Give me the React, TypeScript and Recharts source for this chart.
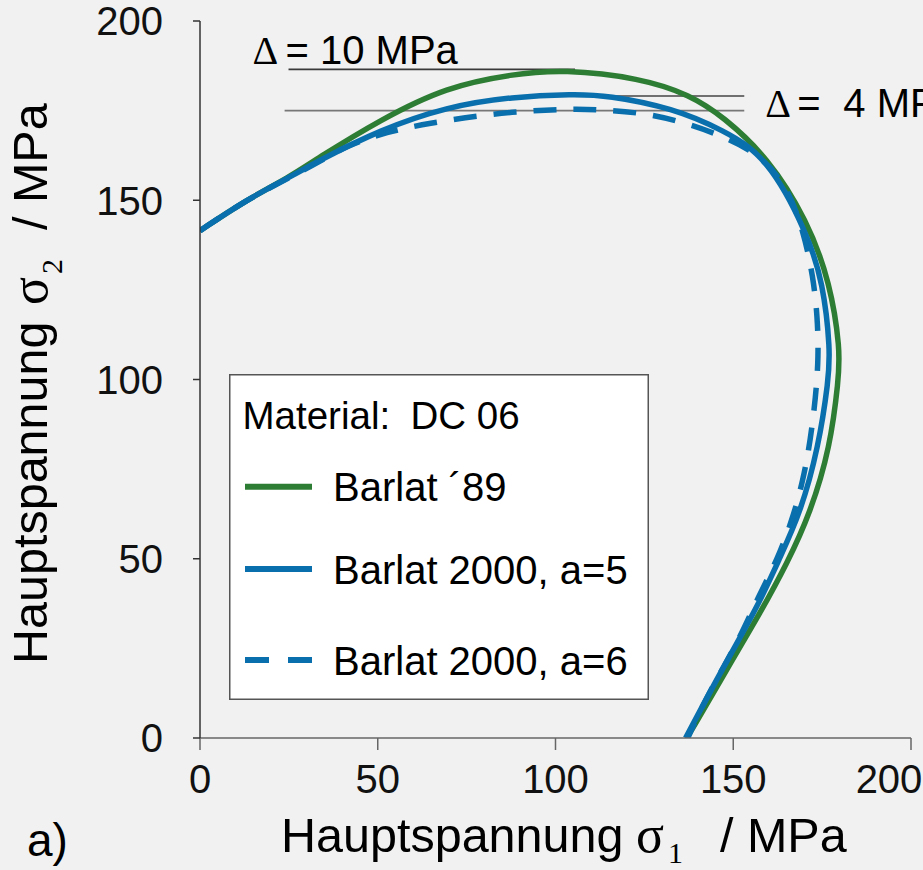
import React from 'react';
import { LineChart, Line, XAxis, YAxis, ReferenceLine, Legend } from 'recharts';

// ---- data ----
const xTicks = [0, 50, 100, 150, 200];
const yTicks = [0, 50, 100, 150, 200];

const seriesNames = ['Barlat \u00B489', 'Barlat 2000, a=5', 'Barlat 2000, a=6'];
const seriesColors = ['#2e7d34', '#0a6fad', '#0a6fad'];
const seriesDash = ['', '', '23 17'];

const barlat89: number[][] = [
  [0, 141.5], [13, 150.1], [25, 156.3], [33.7, 162.1], [50.6, 172.4], [69.4, 181.7],
  [88.0, 185.2], [102.1, 186.5], [123.8, 184.1], [137.9, 179.4], [147.2, 173.3],
  [159.6, 162.1], [170.8, 144.5], [177.3, 126.9], [180.1, 108.2], [179.6, 99.9],
  [177.3, 81.2], [171.7, 62.8], [165.2, 48.8], [157.6, 34.9], [149.2, 20.9],
  [137.9, 1.4], [136.8, 0],
];

const barlat2000a5: number[][] = [
  [0, 141.5], [13, 150.1], [25, 156.3], [33.7, 161.2], [50.6, 169.6], [69.4, 176.1],
  [88.0, 178.9], [105.0, 179.6], [114.5, 179.3], [133.1, 175.7], [147.2, 169.6],
  [159.6, 162.1], [170.8, 140.9], [175.3, 126.9], [177.3, 108.2], [176.8, 99.9],
  [174.0, 81.2], [168.9, 62.8], [163.2, 50.5], [156.8, 36.5], [148.3, 21.8],
  [137.0, 0.8], [136.6, 0],
];

const barlat2000a6: number[][] = [
  [0, 141.5], [13, 150.1], [25, 156.2], [33.7, 160.8], [41.2, 165.2], [52.5, 169.1],
  [64.6, 171.5], [78.7, 173.7], [92.8, 175.0], [104.9, 175.5], [114.5, 175.2],
  [125.8, 174.2], [137.0, 171.5], [148.3, 167.4], [157.6, 162.6], [165.2, 153.7],
  [169.7, 141.7], [172.5, 128.6], [173.7, 117.4], [174.0, 106.3], [173.2, 95.1],
  [171.7, 83.1], [169.7, 72.0], [166.6, 60.8], [162.4, 49.7], [157.0, 39.3],
  [152.0, 28.2], [146.3, 18.1], [140.7, 7.8], [137.9, 1.4], [137.2, 0],
];

// annotation reference segments [x1, x2, y]
const delta10Top = [24.9, 105.5, 186.5];
const delta4Top = [104.0, 153.1, 179.1];
const deltaBottom = [23.8, 153.1, 175.0];

const legendTitle = 'Material:';
const legendMaterial = 'DC 06';

// ---- helpers ----
const SANS = "'Liberation Sans', Arial, sans-serif";
const SERIF = "'Liberation Serif', 'Times New Roman', serif";

const toPts = (arr: number[][]) => arr.map(([x, y]) => ({ x, y }));
const seriesData = [toPts(barlat89), toPts(barlat2000a5), toPts(barlat2000a6)];

const XTick = (props: any) => {
  const { x, y, payload } = props;
  const last = payload.value === xTicks[xTicks.length - 1];
  return (
    <text x={last ? x - 22 : x} y={y} dy="0.71em" textAnchor="middle" fontFamily={SANS} fontSize={40} fill="#111">
      {payload.value}
    </text>
  );
};

const YTick = (props: any) => {
  const { x, y, payload } = props;
  return (
    <text x={x} y={y} dy="0.36em" textAnchor="end" fontFamily={SANS} fontSize={40} fill="#111">
      {payload.value}
    </text>
  );
};

const XTitle = () => (
  <g>
    <text y={852} fontFamily={SANS} fontSize={48.5} fill="#000">
      <tspan x={281}>Hauptspannung</tspan>
      <tspan x={636} fontFamily={SERIF} fontSize={52}>σ</tspan>
      <tspan x={668} dy={11} fontFamily={SERIF} fontSize={30}>1</tspan>
      <tspan x={720} dy={-11}>/ MPa</tspan>
    </text>
    <text x={27} y={856} fontFamily={SANS} fontSize={46} fill="#000">a)</text>
  </g>
);

const YTitle = () => (
  <text transform="translate(47,664) rotate(-90)" fontFamily={SANS} fontSize={48.5} fill="#000">
    <tspan x={0} y={0}>Hauptspannung</tspan>
    <tspan x={359} fontFamily={SERIF} fontSize={52}>σ</tspan>
    <tspan x={390} dy={15} fontFamily={SERIF} fontSize={30}>2</tspan>
    <tspan x={434} dy={-15}>/ MPa</tspan>
  </text>
);

const Delta10Label = (props: any) => {
  const { x, y } = props.viewBox;
  return (
    <text y={y - 5} fontSize={40} fill="#000">
      <tspan x={x - 36} fontFamily={SERIF}>Δ</tspan>
      <tspan x={x - 3} fontFamily={SANS}>= 10 MPa</tspan>
    </text>
  );
};

const Delta4Label = (props: any) => {
  const { x, y, width } = props.viewBox;
  const ex = x + width;
  return (
    <text y={y + 21} fontSize={40} fill="#000">
      <tspan x={ex + 21} fontFamily={SERIF}>Δ</tspan>
      <tspan x={ex + 53} fontFamily={SANS}>=</tspan>
      <tspan x={ex + 99} fontFamily={SANS}>4 MPa</tspan>
    </text>
  );
};

const rowY = [112.7, 195, 286];

const LegendBox = () => (
  <svg width={420} height={326} style={{ display: 'block' }}>
    <rect x={0.75} y={0.75} width={418.5} height={324.5} fill="#ffffff" stroke="#555" strokeWidth={1.5} />
    <text y={55} fontFamily={SANS} fontSize={38.5} fill="#000">
      <tspan x={13.5}>{legendTitle}</tspan>
      <tspan x={181.5}>{legendMaterial}</tspan>
    </text>
    {seriesNames.map((name, i) => (
      <g key={name}>
        <line
          x1={16}
          x2={83}
          y1={rowY[i]}
          y2={rowY[i]}
          stroke={seriesColors[i]}
          strokeWidth={6}
          strokeDasharray={seriesDash[i] ? '24 19' : undefined}
        />
        <text x={104} y={rowY[i] + 14.5} fontFamily={SANS} fontSize={40} fill="#000">
          {name}
        </text>
      </g>
    ))}
  </svg>
);

export default function App() {
  return (
    <div style={{ position: 'absolute', left: 0, top: 0, width: 923, height: 870, background: '#f1f1f1', overflow: 'hidden' }}>
      <LineChart width={923} height={870} margin={{ top: 21, right: 12, bottom: 0, left: 0 }}>
        <XAxis
          type="number"
          dataKey="x"
          domain={[0, 200]}
          ticks={xTicks}
          allowDataOverflow
          height={132}
          stroke="#666"
          strokeWidth={1.5}
          tickSize={12}
          tickMargin={15}
          tick={<XTick />}
          label={XTitle}
        />
        <YAxis
          type="number"
          dataKey="y"
          domain={[0, 200]}
          ticks={yTicks}
          allowDataOverflow
          width={200}
          stroke="#333"
          strokeWidth={1.5}
          tickSize={7}
          tickMargin={30}
          tick={<YTick />}
          label={YTitle}
        />
        <ReferenceLine
          segment={[{ x: delta10Top[0], y: delta10Top[2] }, { x: delta10Top[1], y: delta10Top[2] }]}
          stroke="#3a3a3a"
          strokeWidth={1.6}
          label={Delta10Label}
        />
        <ReferenceLine
          segment={[{ x: delta4Top[0], y: delta4Top[2] }, { x: delta4Top[1], y: delta4Top[2] }]}
          stroke="#444"
          strokeWidth={1.6}
          label={Delta4Label}
        />
        <ReferenceLine
          segment={[{ x: deltaBottom[0], y: deltaBottom[2] }, { x: deltaBottom[1], y: deltaBottom[2] }]}
          stroke="#777"
          strokeWidth={1.6}
        />
        {seriesNames.map((name, i) => (
          <Line
            key={name}
            name={name}
            data={seriesData[i]}
            dataKey="y"
            type="basis"
            stroke={seriesColors[i]}
            strokeWidth={5.5}
            strokeDasharray={seriesDash[i] || undefined}
            dot={false}
            activeDot={false}
            isAnimationActive={false}
          />
        ))}
        <Legend
          layout="horizontal"
          verticalAlign="middle"
          align="center"
          content={LegendBox}
          wrapperStyle={{ position: 'absolute', left: 229, top: 374, width: 420, height: 326 }}
        />
      </LineChart>
    </div>
  );
}
